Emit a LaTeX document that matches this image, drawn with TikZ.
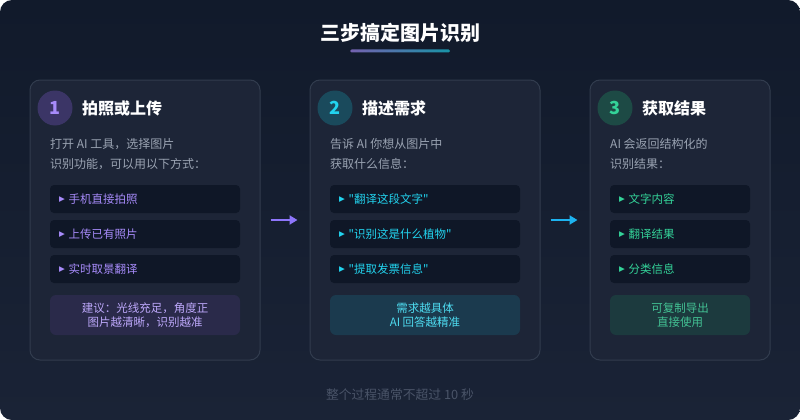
\documentclass[tikz,border=0pt]{standalone}
\usepackage{fontspec}
\setmainfont{Noto Sans CJK SC}
\newfontfamily\plainfont{Noto Sans CJK SC}
\newfontfamily\symfont{DejaVu Sans}
\usepackage{xcolor}
\definecolor{bgtop}{HTML}{111A2B}
\definecolor{bgbot}{HTML}{1A2336}
\definecolor{cardfill}{HTML}{1D2537}
\definecolor{carddraw}{HTML}{323C4E}
\definecolor{itemfill}{HTML}{0F1727}
\definecolor{desctext}{HTML}{9AA3B2}
\definecolor{foottext}{HTML}{4A5468}
\definecolor{steppurple}{HTML}{A78BFA}
\definecolor{stepcyan}{HTML}{22D3EE}
\definecolor{stepgreen}{HTML}{34D399}
\definecolor{circpurple}{HTML}{3B3566}
\definecolor{circcyan}{HTML}{1A4A5C}
\definecolor{circgreen}{HTML}{1D4A45}
\definecolor{tippurple}{HTML}{2A2A4A}
\definecolor{tipcyan}{HTML}{1B3A4E}
\definecolor{tipgreen}{HTML}{1C3A3E}
\usetikzlibrary{positioning,arrows.meta,calc}
\newcommand{\tri}{\raisebox{1.6pt}{\symfont\fontsize{7.5}{7.5}\selectfont ▶}}
\newcommand{\qt}{{\plainfont"}}

\begin{document}
\begin{tikzpicture}[x=1pt,y=-1pt,
  card/.style={draw=carddraw, fill=cardfill, line width=1pt, rounded corners=10pt, minimum height=280pt},
  stepnum/.style={circle, minimum size=35pt, inner sep=0pt, font=\fontsize{18}{18}\selectfont\bfseries},
  steptitle/.style={anchor=west, text=white, inner sep=0pt, font=\fontsize{16}{16}\selectfont\bfseries},
  desc/.style={anchor=west, align=left, text=desctext, inner sep=0pt, font=\fontsize{12}{20}\selectfont},
  itembox/.style={fill=itemfill, rounded corners=4pt, minimum height=28pt, inner xsep=9pt, align=left,
    font=\fontsize{11.5}{14}\selectfont},
  tipbox/.style={rounded corners=6pt, minimum width=190pt, minimum height=40pt, align=center,
    font=\fontsize{11.5}{14}\selectfont},
  flow/.style={-{Triangle[length=8pt,width=9pt]}, line width=2pt, shorten <=10pt, shorten >=12pt}]
  \useasboundingbox (0,0) rectangle (800,420);
  % background panel
  \shade[rounded corners=12pt, top color=bgtop, bottom color=bgbot] (0,0) rectangle (800,420);

  % heading
  \node[text=white, font=\fontsize{20}{20}\selectfont\bfseries] (title) at (400,33) {三步搞定图片识别};
  \shade[left color=steppurple!70!black, right color=stepcyan!70!black, rounded corners=1.5pt]
    (350,49.5) rectangle (450,52.5);

  % step 1
  \node[card, minimum width=230pt] (card1) at (145,220) {};
  \node[stepnum, fill=circpurple, text=steppurple] (num1) at (55,108) {1};
  \node[steptitle] (head1) at (82,108) {拍照或上传};
  \node[desc] (desc1) at (50,154) {打开 AI 工具，选择图片\\识别功能，可以用以下方式：};
  \node[itembox, text width=172pt, text=steppurple] (item11) at (145,199) {\tri\ 手机直接拍照};
  \node[itembox, text width=172pt, text=steppurple] (item12) at (145,234) {\tri\ 上传已有照片};
  \node[itembox, text width=172pt, text=steppurple] (item13) at (145,269) {\tri\ 实时取景翻译};
  \node[tipbox, fill=tippurple, text=steppurple!75!white] (tip1) at (145,315) {建议：光线充足，角度正\\图片越清晰，识别越准};

  % step 2
  \node[card, minimum width=230pt] (card2) at (425,220) {};
  \node[stepnum, fill=circcyan, text=stepcyan] (num2) at (335,108) {2};
  \node[steptitle] (head2) at (362,108) {描述需求};
  \node[desc] (desc2) at (330,154) {告诉 AI 你想从图片中\\获取什么信息：};
  \node[itembox, text width=172pt, text=stepcyan] (item21) at (425,199) {\tri\ \qt{}翻译这段文字\qt{}};
  \node[itembox, text width=172pt, text=stepcyan] (item22) at (425,234) {\tri\ \qt{}识别这是什么植物\qt{}};
  \node[itembox, text width=172pt, text=stepcyan] (item23) at (425,269) {\tri\ \qt{}提取发票信息\qt{}};
  \node[tipbox, fill=tipcyan, text=stepcyan!80!white] (tip2) at (425,315) {需求越具体\\AI 回答越精准};

  % step 3
  \node[card, minimum width=180pt] (card3) at (680,220) {};
  \node[stepnum, fill=circgreen, text=stepgreen] (num3) at (615,108) {3};
  \node[steptitle] (head3) at (642,108) {获取结果};
  \node[desc] (desc3) at (610,154) {AI 会返回结构化的\\识别结果：};
  \node[itembox, text width=122pt, text=stepgreen] (item31) at (680,199) {\tri\ 文字内容};
  \node[itembox, text width=122pt, text=stepgreen] (item32) at (680,234) {\tri\ 翻译结果};
  \node[itembox, text width=122pt, text=stepgreen] (item33) at (680,269) {\tri\ 分类信息};
  \node[tipbox, minimum width=140pt, fill=tipgreen, text=stepgreen!80!gray] (tip3) at (680,315) {可复制导出\\直接使用};

  % connectors
  \draw[flow, steppurple!85!blue] (card1.east) -- (card2.west);
  \draw[flow, stepcyan!85!blue] (card2.east) -- (card3.west);

  % footer
  \node[text=foottext, font=\fontsize{12.8}{12.8}\selectfont] (foot) at (400,395) {整个过程通常不超过 10 秒};
\end{tikzpicture}
\end{document}
